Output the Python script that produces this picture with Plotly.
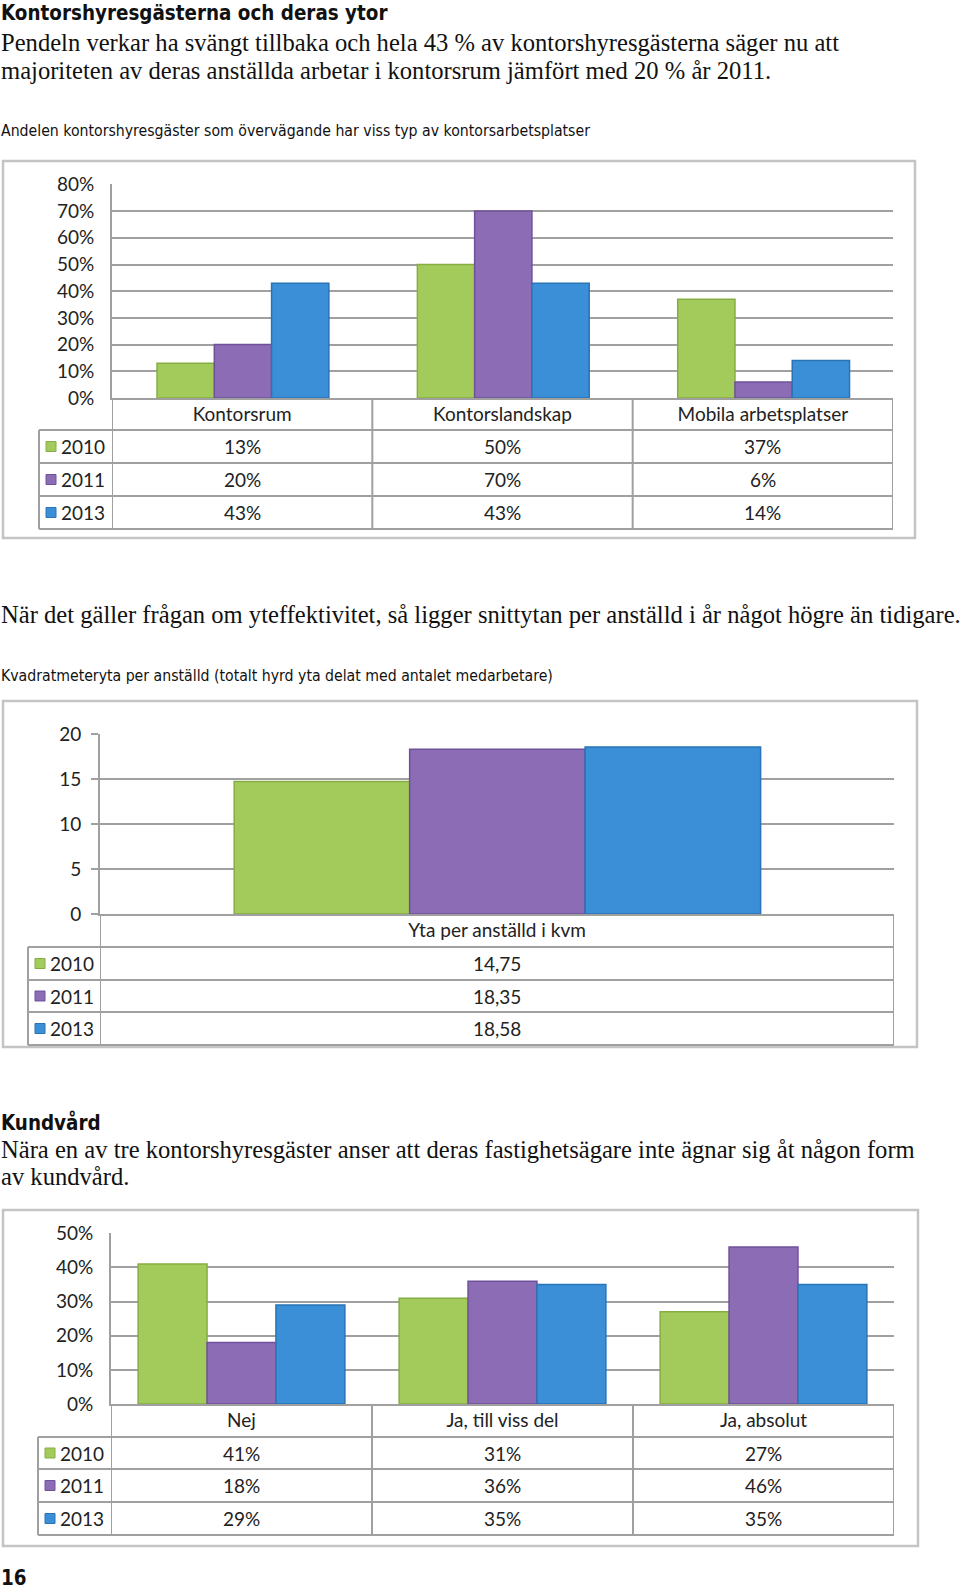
import plotly.graph_objects as go

W, H = 960, 1592

# ---------------- data ----------------
years = ["2010", "2011", "2013"]

cat1 = ["Kontorsrum", "Kontorslandskap", "Mobila arbetsplatser"]
v1_2010 = [0.13, 0.50, 0.37]
v1_2011 = [0.20, 0.70, 0.06]
v1_2013 = [0.43, 0.43, 0.14]

cat2 = ["Yta per anställd i kvm"]
v2_2010 = [14.75]
v2_2011 = [18.35]
v2_2013 = [18.58]

cat3 = ["Nej", "Ja, till viss del", "Ja, absolut"]
v3_2010 = [0.41, 0.31, 0.27]
v3_2011 = [0.18, 0.36, 0.46]
v3_2013 = [0.29, 0.35, 0.35]

title1 = "Kontorshyresgästerna och deras ytor"
para1 = ["Pendeln verkar ha svängt tillbaka och hela 43 % av kontorshyresgästerna säger nu att",
         "majoriteten av deras anställda arbetar i kontorsrum jämfört med 20 % år 2011."]
caption1 = "Andelen kontorshyresgäster som övervägande har viss typ av kontorsarbetsplatser"
para2 = "När det gäller frågan om yteffektivitet, så ligger snittytan per anställd i år något högre än tidigare."
caption2 = "Kvadratmeteryta per anställd (totalt hyrd yta delat med antalet medarbetare)"
title3 = "Kundvård"
para3 = ["Nära en av tre kontorshyresgäster anser att deras fastighetsägare inte ägnar sig åt någon form",
         "av kundvård."]
page_no = "16"

# ---------------- style ----------------
colors = ["#A3CB5C", "#8D6CB6", "#3B8FD7"]
edge = ["#86AD43", "#6F519A", "#2A73B5"]
GRID = "#A0A0A0"
BOX = "#C4C4C4"
SERIF = "Liberation Serif, DejaVu Serif, serif"
NARROW = "Liberation Sans Narrow, DejaVu Sans Condensed, Arial Narrow, Liberation Sans, sans-serif"
CHARTF = "Lato, Open Sans, sans-serif"


def px(x):
    return x / W


def py(y):
    return 1 - y / H


def pct(v):
    return f"{round(v * 100):d}%"


def dec(v):
    return f"{v:.2f}".replace(".", ",")


charts = [
    dict(cats=cat1, series=[v1_2010, v1_2011, v1_2013], plot=(112, 184, 893, 398),
         rows=[430, 463, 496, 529], leg=39, outer=(3, 161, 915, 538),
         yr=[0, 0.8], dt=0.1, fmt=pct, tickfmt=".0%", off=[-0.327, -0.107, 0.113], w=0.22,
         ticks=""),
    dict(cats=cat2, series=[v2_2010, v2_2011, v2_2013], plot=(100, 734, 894, 914),
         rows=[947, 980, 1012, 1045], leg=28, outer=(3, 701, 917, 1047),
         yr=[0, 20], dt=5, fmt=dec, tickfmt="", off=[-0.331, -0.110, 0.111], w=0.221,
         ticks="outside"),
    dict(cats=cat3, series=[v3_2010, v3_2011, v3_2013], plot=(111, 1233, 894, 1404),
         rows=[1437, 1469, 1502, 1535], leg=38, outer=(3, 1210, 918, 1546),
         yr=[0, 0.5], dt=0.1, fmt=pct, tickfmt=".0%", off=[-0.396, -0.132, 0.132], w=0.264,
         ticks=""),
]

fig = go.Figure()
shapes = []
annotations = []
layout_axes = {}

for ci, ch in enumerate(charts):
    sfx = "" if ci == 0 else str(ci + 1)
    xa, ya = "x" + sfx, "y" + sfx
    L, T, R, B = ch["plot"]
    n = len(ch["cats"])

    for si, vals in enumerate(ch["series"]):
        fig.add_trace(go.Bar(
            x=list(range(n)), y=vals, xaxis=xa, yaxis=ya,
            width=ch["w"], offset=ch["off"][si],
            marker=dict(color=colors[si], line=dict(color=edge[si], width=1.5)),
            showlegend=False, hoverinfo="skip"))

    eps = (ch["yr"][1] - ch["yr"][0]) * 0.002
    layout_axes["xaxis" + sfx] = dict(
        domain=[px(L), px(R)], anchor=ya, range=[-0.5, n - 0.5], automargin=False,
        tickmode="array", tickvals=list(range(n)), ticktext=ch["cats"],
        showgrid=False, zeroline=False, showline=True, linecolor=GRID, linewidth=2,
        ticks="", tickfont=dict(family=CHARTF, size=19, color="#222"), ticklabelstandoff=-2,
        fixedrange=True)
    layout_axes["yaxis" + sfx] = dict(
        domain=[py(B), py(T)], anchor=xa, range=[ch["yr"][0], ch["yr"][1] + eps],
        automargin=False,
        tick0=0, dtick=ch["dt"], tickformat=ch["tickfmt"],
        showgrid=True, gridcolor=GRID, gridwidth=2, zeroline=False,
        showline=True, linecolor=GRID, linewidth=2,
        ticks=ch["ticks"], ticklen=7, tickwidth=2, tickcolor=GRID,
        ticklabelstandoff=12 if ch["ticks"] == "" else 6,
        tickfont=dict(family=CHARTF, size=19, color="#222"), fixedrange=True)

    oL, oT, oR, oB = ch["outer"]
    shapes.append(dict(type="rect", xref="paper", yref="paper", x0=px(oL), x1=px(oR),
                       y0=py(oB), y1=py(oT), line=dict(color=BOX, width=2.5), layer="below"))

    rows = ch["rows"]
    leg = ch["leg"]
    for ry in rows:
        shapes.append(dict(type="line", xref="paper", yref="paper", x0=px(leg), x1=px(R),
                           y0=py(ry), y1=py(ry), line=dict(color=GRID, width=2)))
    for k in range(n + 1):
        shapes.append(dict(type="line", xref=xa, yref="paper", x0=k - 0.5, x1=k - 0.5,
                           y0=py(rows[-1]), y1=py(B), line=dict(color=GRID, width=2)))
    shapes.append(dict(type="line", xref="paper", yref="paper", x0=px(leg), x1=px(leg),
                       y0=py(rows[-1]), y1=py(rows[0]), line=dict(color=GRID, width=2)))

    for si in range(3):
        yc = (rows[si] + rows[si + 1]) / 2
        shapes.append(dict(type="rect", xref="paper", yref="paper",
                           x0=px(leg + 7), x1=px(leg + 17), y0=py(yc + 5), y1=py(yc - 5),
                           fillcolor=colors[si], line=dict(color=edge[si], width=1)))
        annotations.append(dict(xref="paper", yref="paper", x=px(leg + 20), y=py(yc),
                                xanchor="left", yanchor="middle", text=years[si], showarrow=False,
                                font=dict(family=CHARTF, size=19, color="#222")))
        for k in range(n):
            annotations.append(dict(xref=xa, yref="paper", x=k, y=py(yc),
                                    xanchor="center", yanchor="middle",
                                    text=ch["fmt"](ch["series"][si][k]), showarrow=False,
                                    font=dict(family=CHARTF, size=19, color="#222")))


def text(t, x, y, fam, size, bold=False):
    annotations.append(dict(xref="paper", yref="paper", x=px(x), y=py(y), xanchor="left",
                            yanchor="middle", showarrow=False,
                            text=f"<b>{t}</b>" if bold else t,
                            font=dict(family=fam, size=size, color="#111")))


text(title1, -1, 13, NARROW, 20.4, bold=True)
text(para1[0], -1, 43, SERIF, 24.6)
text(para1[1], -1, 70, SERIF, 24.6)
text(caption1, -1, 131, NARROW, 15.7)
text(para2, -1, 614, SERIF, 24.6)
text(caption2, -1, 675, NARROW, 15.7)
text(title3, -1, 1122, NARROW, 20.4, bold=True)
text(para3[0], -1, 1149, SERIF, 24.6)
text(para3[1], -1, 1176, SERIF, 24.6)
text(page_no, -1, 1578, NARROW, 20.4, bold=True)

fig.update_layout(
    width=W, height=H, margin=dict(l=0, r=0, t=0, b=0, autoexpand=False),
    paper_bgcolor="white", plot_bgcolor="white",
    barmode="overlay", shapes=shapes, annotations=annotations,
    **layout_axes)

fig.write_html("out.html", config={"displayModeBar": False},
               post_script="document.body.style.margin='0px';document.body.style.padding='0px';")
